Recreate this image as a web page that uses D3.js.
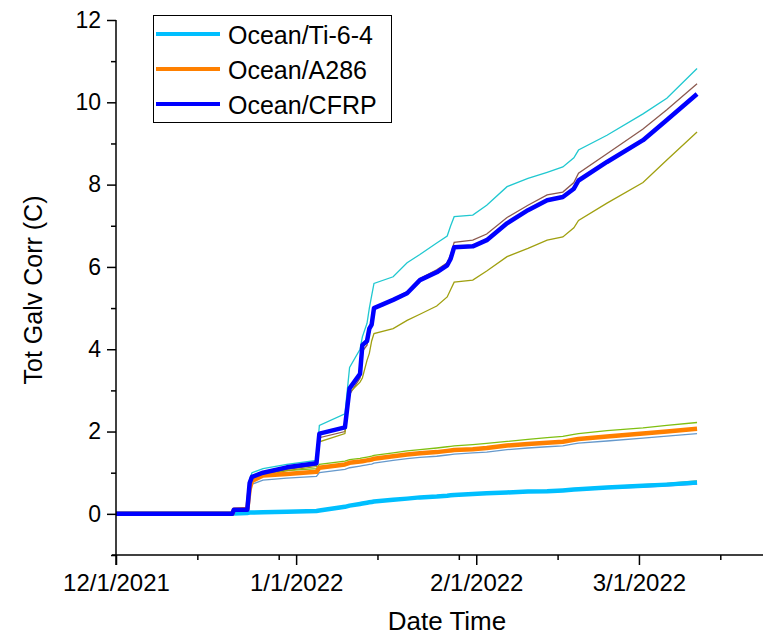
<!DOCTYPE html>
<html>
<head>
<meta charset="utf-8">
<script src="https://cdn.jsdelivr.net/npm/d3@7"></script>
<style>
  body { margin: 0; background: #fff; }
  svg { display: block; font-family: "Liberation Sans", Arial, sans-serif; }
  .axis path, .axis line { stroke: #000; stroke-width: 1.5; }
  .axis text { fill: #000; }
</style>
</head>
<body>
<div id="chart"></div>
<script>
// days since 12/1/2021 where the curves were read
const days = [0, 20, 20.3, 22.6, 23.0, 23.4, 25.3, 29.4, 34.5, 35.0, 39.4, 40.2, 42.0, 42.4, 43.2, 43.6, 44.0, 44.4,
  47.7, 50.1, 52.3, 55.2, 57.0, 57.6, 58.2, 61.4, 63.8, 67.3, 70.9, 74.2, 76.9, 78.8, 79.6, 84.5, 90.7, 94.8, 100.0];

// thick (legend) series
const tiMean = [0, 0, 0.01, 0.02, 0.03, 0.03, 0.04, 0.05, 0.07, 0.08, 0.17, 0.2, 0.24, 0.25, 0.27, 0.28, 0.29, 0.3,
  0.34, 0.37, 0.4, 0.42, 0.44, 0.45, 0.46, 0.48, 0.5, 0.52, 0.54, 0.55, 0.57, 0.59, 0.6, 0.64, 0.68, 0.71, 0.76];
const a286Mean = [0, 0, 0.1, 0.12, 0.6, 0.8, 0.93, 0.97, 1.02, 1.12, 1.2, 1.24, 1.27, 1.28, 1.3, 1.31, 1.32, 1.34,
  1.4, 1.44, 1.47, 1.5, 1.53, 1.54, 1.55, 1.57, 1.6, 1.66, 1.7, 1.73, 1.75, 1.8, 1.82, 1.88, 1.95, 2.0, 2.07];
const cfrpMean = [0, 0, 0.1, 0.1, 0.75, 0.9, 1.0, 1.13, 1.23, 1.95, 2.1, 3.05, 3.4, 4.1, 4.2, 4.5, 4.6, 5.0,
  5.2, 5.36, 5.68, 5.87, 6.04, 6.2, 6.48, 6.5, 6.65, 7.06, 7.38, 7.62, 7.7, 7.9, 8.1, 8.55, 9.08, 9.57, 10.2];

// thin replicate series
const tiRep1 = [0, 0, 0.01, 0.02, 0.03, 0.03, 0.04, 0.05, 0.06, 0.07, 0.16, 0.19, 0.23, 0.24, 0.26, 0.27, 0.28, 0.29,
  0.33, 0.36, 0.39, 0.41, 0.43, 0.44, 0.45, 0.47, 0.49, 0.51, 0.53, 0.54, 0.55, 0.57, 0.58, 0.62, 0.65, 0.68, 0.72];
const tiRep2 = [0, 0, 0.01, 0.02, 0.03, 0.03, 0.04, 0.05, 0.07, 0.08, 0.17, 0.2, 0.24, 0.25, 0.27, 0.28, 0.29, 0.3,
  0.35, 0.38, 0.41, 0.43, 0.45, 0.46, 0.47, 0.49, 0.51, 0.53, 0.55, 0.57, 0.59, 0.61, 0.62, 0.66, 0.71, 0.74, 0.8];
const a286Rep1 = [0, 0, 0.1, 0.12, 0.65, 0.88, 1.0, 1.05, 1.1, 1.2, 1.28, 1.32, 1.35, 1.36, 1.38, 1.39, 1.4, 1.42,
  1.48, 1.53, 1.56, 1.6, 1.63, 1.64, 1.65, 1.68, 1.71, 1.76, 1.81, 1.85, 1.88, 1.93, 1.95, 2.02, 2.09, 2.15, 2.22];
const a286Rep2 = [0, 0, 0.1, 0.1, 0.55, 0.72, 0.82, 0.87, 0.91, 1.0, 1.08, 1.12, 1.16, 1.17, 1.19, 1.2, 1.21, 1.23,
  1.3, 1.34, 1.37, 1.4, 1.43, 1.44, 1.45, 1.48, 1.5, 1.56, 1.6, 1.63, 1.65, 1.7, 1.72, 1.77, 1.84, 1.89, 1.95];
const cfrpRep1 = [0, 0, 0.1, 0.1, 0.85, 1.0, 1.1, 1.2, 1.3, 2.15, 2.43, 3.56, 4.0, 4.3, 4.63, 5.0, 5.3, 5.6,
  5.76, 6.1, 6.3, 6.58, 6.75, 7.0, 7.22, 7.26, 7.5, 7.95, 8.15, 8.3, 8.43, 8.65, 8.84, 9.2, 9.72, 10.1, 10.82];
const cfrpRep2 = [0, 0, 0.1, 0.1, 0.7, 0.85, 0.95, 1.08, 1.18, 1.85, 2.0, 2.9, 3.3, 3.95, 4.1, 4.45, 4.6, 5.0,
  5.22, 5.4, 5.72, 5.93, 6.1, 6.3, 6.6, 6.65, 6.8, 7.2, 7.5, 7.75, 7.82, 8.05, 8.28, 8.75, 9.35, 9.82, 10.45];
const cfrpRep3 = [0, 0, 0.1, 0.1, 0.65, 0.82, 0.92, 1.05, 1.15, 1.75, 1.95, 2.95, 3.2, 3.3, 3.73, 3.9, 4.2, 4.38,
  4.5, 4.7, 4.85, 5.05, 5.27, 5.45, 5.63, 5.68, 5.9, 6.25, 6.45, 6.65, 6.73, 6.95, 7.13, 7.55, 8.05, 8.6, 9.28];

const legendNames = ["Ocean/Ti-6-4", "Ocean/A286", "Ocean/CFRP"];
const majorDates = ["2021-12-01", "2022-01-01", "2022-02-01", "2022-03-01"];
const minorDates = ["2021-12-15", "2021-12-29", "2022-01-15", "2022-01-29", "2022-02-15", "2022-03-15"];
const yMajor = [0, 2, 4, 6, 8, 10, 12];
const yMinor = [-1, 1, 3, 5, 7, 9, 11];

const width = 763, height = 637;
const start = Date.UTC(2021, 11, 1);
const toDate = d => new Date(start + d * 864e5);

const svg = d3.select("#chart").append("svg")
  .attr("width", width).attr("height", height);

const x = d3.scaleUtc()
  .domain([toDate(0), toDate(111.35)])
  .range([116, 763]);
const y = d3.scaleLinear()
  .domain([-1, 12])
  .range([555, 20]);

const line = vals => d3.line()
  .x((v, i) => x(toDate(days[i])))
  .y(v => y(v))(vals);

// thin replicate lines first
const thin = [
  { vals: tiRep1, color: "#c060e0" },
  { vals: tiRep2, color: "#b0b040" },
  { vals: a286Rep1, color: "#7fbf10" },
  { vals: a286Rep2, color: "#6699cc" },
  { vals: cfrpRep1, color: "#20c8d0" },
  { vals: cfrpRep2, color: "#8c5a50" },
  { vals: cfrpRep3, color: "#a0a010" }
];
thin.forEach(s => {
  svg.append("path")
    .attr("d", line(s.vals))
    .attr("fill", "none")
    .attr("stroke", s.color)
    .attr("stroke-width", 1.3);
});

// thick mean lines
const thick = [
  { vals: tiMean, color: "#00bfff", name: legendNames[0] },
  { vals: a286Mean, color: "#ff8000", name: legendNames[1] },
  { vals: cfrpMean, color: "#0000ff", name: legendNames[2] }
];
thick.forEach(s => {
  svg.append("path")
    .attr("d", line(s.vals))
    .attr("fill", "none")
    .attr("stroke", s.color)
    .attr("stroke-width", 4.5)
    .attr("stroke-linejoin", "round");
});

// x axis
const xMajor = majorDates.map(s => new Date(s + "T00:00:00Z"));
const xMinor = minorDates.map(s => new Date(s + "T00:00:00Z"));
svg.append("g")
  .attr("class", "axis")
  .attr("transform", "translate(0,555)")
  .call(d3.axisBottom(x).tickValues(xMajor).tickSize(10).tickSizeOuter(0)
    .tickFormat(d3.utcFormat("%-m/%-d/%Y")))
  .call(g => g.select(".domain").attr("d", "M112,0H763"))
  .call(g => g.selectAll("text").attr("font-size", "24px").attr("dy", "0.95em"));
svg.append("g")
  .attr("class", "axis")
  .attr("transform", "translate(0,555)")
  .call(d3.axisBottom(x).tickValues(xMinor).tickSize(5).tickSizeOuter(0).tickFormat(""))
  .call(g => g.select(".domain").remove());

// y axis
svg.append("g")
  .attr("class", "axis")
  .attr("transform", "translate(116,0)")
  .call(d3.axisLeft(y).tickValues(yMajor).tickSize(9).tickSizeOuter(0).tickPadding(6))
  .call(g => g.select(".domain").attr("d", "M0,20V565"))
  .call(g => g.selectAll("text").attr("font-size", "23px"));
svg.append("g")
  .attr("class", "axis")
  .attr("transform", "translate(116,0)")
  .call(d3.axisLeft(y).tickValues(yMinor).tickSize(5).tickSizeOuter(0).tickFormat(""))
  .call(g => g.select(".domain").remove());

// axis titles
svg.append("text")
  .attr("x", 447).attr("y", 630)
  .attr("text-anchor", "middle")
  .attr("font-size", "26px")
  .text("Date Time");
svg.append("text")
  .attr("transform", "translate(42,290) rotate(-90)")
  .attr("text-anchor", "middle")
  .attr("font-size", "25px")
  .text("Tot Galv Corr (C)");

// legend
const legend = svg.append("g");
legend.append("rect")
  .attr("x", 153.5).attr("y", 15.5)
  .attr("width", 238).attr("height", 107)
  .attr("fill", "#fff").attr("stroke", "#000").attr("stroke-width", 1);
thick.forEach((s, i) => {
  const ly = 34 + i * 35;
  legend.append("line")
    .attr("x1", 156).attr("x2", 220)
    .attr("y1", ly).attr("y2", ly)
    .attr("stroke", s.color).attr("stroke-width", 4);
  legend.append("text")
    .attr("x", 228).attr("y", ly + 10)
    .attr("font-size", "25px")
    .text(s.name);
});
</script>
</body>
</html>
